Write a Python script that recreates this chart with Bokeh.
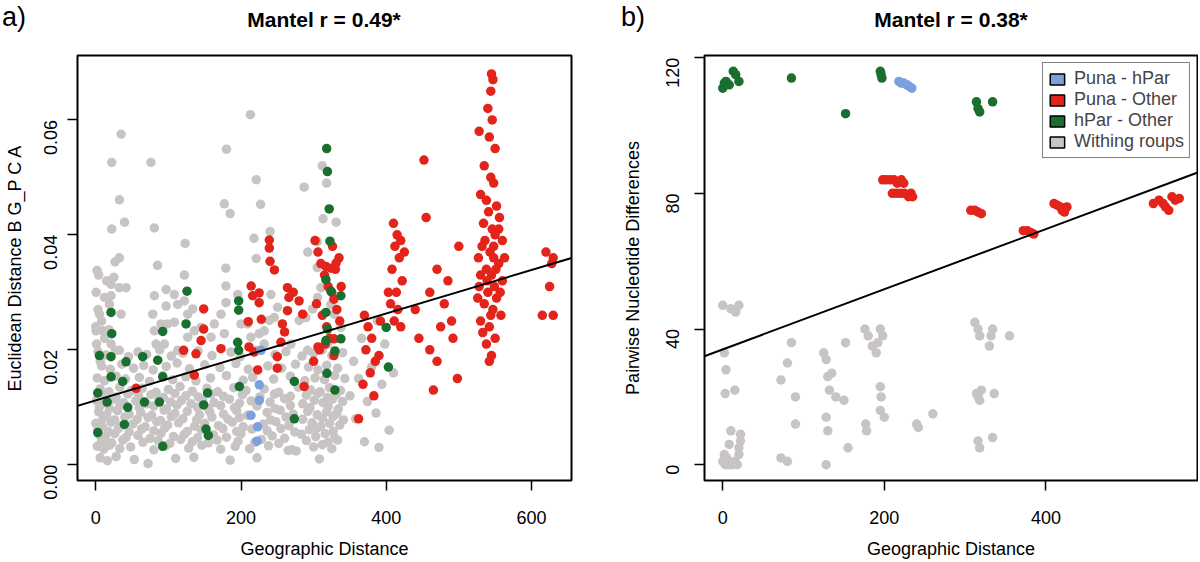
import math
from bokeh.plotting import figure
from bokeh.models import (Range1d, FixedTicker, NumeralTickFormatter, Slope,
                          Legend, LegendItem, Div)
from bokeh.layouts import row, column
from bokeh.embed import file_html
from bokeh.resources import INLINE

FONT = "Liberation Sans"
C_GRAY = "#c8c4c4"
C_RED = "#e3241b"
C_GREEN = "#196f2e"
C_BLUE = "#7c9fde"

# ---------------- Panel a data: (geographic distance, euclidean distance) ----------------
a_gray_pts = [
    # upper scattered
    (213,0.0609),(35,0.0575),(180,0.0549),(22,0.0526),(76,0.0526),(312,0.052),(318,0.049),
    (32.5,0.0461),(39.6,0.0422),(22,0.041),(80.7,0.0412),(177,0.0454),(185,0.0437),(227,0.0453),
    (221,0.0496),(287,0.0483),(123,0.0385),(32.5,0.036),(26.6,0.0353),(85,0.0347),(1.8,0.0338),
    (24.8,0.0326),(122,0.033),(179,0.0342),(218,0.0394),(240,0.0406),(221,0.0359),(292,0.037),
    (305,0.0388),(313,0.0428),(331,0.0422),(305,0.0343),
    # middle band
    (21,0.0314),(32.5,0.0308),(41.7,0.0308),(11.9,0.0291),(21,0.0294),(18.8,0.0279),(5,0.0262),
    (34.8,0.0262),(0.4,0.0233),(9.6,0.0233),(21,0.021),(32.5,0.0199),(80.7,0.0294),(78.4,0.0262),
    (96.8,0.0305),(108.2,0.0296),(96.8,0.0276),(112.8,0.0279),(122,0.0285),(133.5,0.0271),
    (80.7,0.0233),(89.9,0.0245),(99,0.0245),(108.2,0.0248),(83,0.021),(94.5,0.021),(112.8,0.0199),
    (126.6,0.0222),(135.7,0.0233),(144.9,0.0239),(158.7,0.0222),(177,0.0228),(179.3,0.0311),
    (179.3,0.0282),(200,0.0245),(213.7,0.0222),(225.2,0.0228),(232,0.0233),(239,0.0251),
    (241.2,0.0296),(250.4,0.0274),(268.8,0.021),(280.2,0.0251),(289.4,0.0256),(298.6,0.0271),
    (305.5,0.0291),(310,0.0308),(323.8,0.0279),(328.4,0.0262),(291.7,0.0199),(305.5,0.0199),
    (319.2,0.021),(337.6,0.0239),(232,0.021),(245.8,0.0256),(172.4,0.0262),(163.3,0.0245),
    (195.4,0.0296),(209.1,0.0245),(126.6,0.0262),
    (0.5,0.030),(3,0.027),(8,0.025),(12,0.022),(1,0.021),(6,0.018),(15,0.032),(0,0.024),(4,0.033),(18,0.0235),
    # lower dense mass
    (3,0.0197),(14,0.0191),(27,0.0199),(45,0.0188),(58,0.0196),(70,0.0192),(88,0.0200),(104,0.0189),
    (120,0.0194),(141,0.0198),(160,0.0190),(186,0.0196),(199,0.0188),(222,0.0199),(247,0.0192),
    (262,0.0197),(284,0.0189),(300,0.0194),(312,0.0200),(325,0.0190),(340,0.0195),
    (8,0.0172),(20,0.0166),(36,0.0175),(52,0.0168),(66,0.0173),(79,0.0165),(97,0.0171),(112,0.0177),
    (129,0.0167),(150,0.0174),(171,0.0169),(193,0.0176),(210,0.0166),(237,0.0172),(256,0.0168),
    (275,0.0175),(293,0.0170),(306,0.0165),(318,0.0173),(333,0.0168),
    (2,0.0151),(12,0.0146),(28,0.0154),(41,0.0149),(60,0.0152),(74,0.0145),(92,0.0155),(106,0.0148),
    (124,0.0153),(138,0.0146),(158,0.0151),(180,0.0155),(203,0.0147),(216,0.0152),(245,0.0149),
    (268,0.0154),(288,0.0146),(302,0.0151),(315,0.0148),(329,0.0155),(343,0.0150),
    (6,0.0132),(18,0.0127),(33,0.0135),(49,0.0129),(64,0.0133),(83,0.0126),(100,0.0131),(116,0.0136),
    (133,0.0128),(153,0.0133),(168,0.0127),(190,0.0134),(207,0.0129),(232,0.0132),(252,0.0126),
    (279,0.0135),(296,0.0130),(309,0.0127),(322,0.0134),(337,0.0129),
    (1,0.0112),(10,0.0107),(24,0.0114),(38,0.0108),(55,0.0111),(70,0.0106),(87,0.0115),(103,0.0109),
    (118,0.0112),(131,0.0106),(147,0.0113),(163,0.0108),(184,0.0114),(198,0.0107),(214,0.0111),
    (240,0.0109),(260,0.0115),(285,0.0106),(301,0.0112),(313,0.0108),(326,0.0114),(340,0.0110),
    (4,0.0092),(15,0.0087),(30,0.0094),(46,0.0088),(62,0.0091),(77,0.0086),(94,0.0095),(109,0.0089),
    (126,0.0093),(143,0.0087),(157,0.0092),(176,0.0088),(194,0.0094),(209,0.0086),(236,0.0091),
    (254,0.0095),(272,0.0088),(292,0.0093),(305,0.0087),(318,0.0092),(332,0.0089),
    (0,0.0072),(9,0.0067),(21,0.0074),(35,0.0068),(51,0.0071),(68,0.0066),(84,0.0075),(99,0.0069),
    (114,0.0073),(136,0.0067),(150,0.0072),(169,0.0068),(188,0.0074),(203,0.0066),(231,0.0071),
    (248,0.0075),(266,0.0068),(298,0.0073),(310,0.0067),(322,0.0072),(336,0.0069),
    (5,0.0052),(13,0.0047),(26,0.0054),(42,0.0048),(58,0.0051),(75,0.0046),(90,0.0055),(107,0.0049),
    (122,0.0053),(140,0.0047),(162,0.0052),(180,0.0048),(200,0.0054),(243,0.0050),(260,0.0046),
    (283,0.0053),(303,0.0049),(316,0.0054),(329,0.0047),
    (2,0.0032),(11,0.0027),(19,0.0034),(33,0.0028),(48,0.0031),(80,0.0026),(96,0.0033),(128,0.0029),
    (146,0.0034),(172,0.0027),(192,0.0032),(212,0.0028),(238,0.0033),(270,0.0026),(300,0.0031),
    (312,0.0035),(325,0.0028),
    (6,0.0012),(16,0.0007),(28,0.0014),(53,0.0009),(72,0.0002),(110,0.0011),(135,0.0013),(185,0.0008),
    (222,0.0012),(265,0.0025),(276,0.0024),(308,0.0010),
    (8,0.0041),(22,0.0038),(37,0.0043),(65,0.0039),(86,0.0042),(102,0.0037),(117,0.0044),(133,0.0040),
    (155,0.0038),(167,0.0043),(196,0.0041),(219,0.0039),(228,0.0044),(252,0.0037),(290,0.0042),
    (320,0.0039),(333,0.0043),
    (3,0.0061),(17,0.0058),(31,0.0063),(46,0.0057),(63,0.0062),(80,0.0059),(95,0.0064),(126,0.0058),
    (145,0.0061),(175,0.0063),(194,0.0058),(215,0.0062),(236,0.0059),(255,0.0063),(274,0.0057),
    (294,0.0061),(305,0.0064),(327,0.0058),
    (10,0.0081),(26,0.0078),(40,0.0083),(57,0.0079),(72,0.0082),(89,0.0077),(104,0.0084),(120,0.0080),
    (139,0.0078),(160,0.0083),(182,0.0079),(198,0.0082),(241,0.0078),(262,0.0083),(285,0.0079),
    (312,0.0081),(327,0.0084),(341,0.0078),
    (5,0.0101),(19,0.0098),(33,0.0103),(60,0.0099),(80,0.0102),(97,0.0097),(112,0.0104),(140,0.0100),
    (155,0.0098),(172,0.0103),(191,0.0099),(222,0.0102),(247,0.0098),(268,0.0103),(295,0.0099),
    (320,0.0101),(334,0.0097),
    (13,0.0121),(28,0.0118),(44,0.0123),(59,0.0119),(76,0.0122),(93,0.0117),(109,0.0124),(124,0.0120),
    (141,0.0118),(159,0.0123),(176,0.0119),(202,0.0122),(226,0.0118),(246,0.0123),(268,0.0119),
    (290,0.0121),(306,0.0124),(319,0.0117),(331,0.0122),
    # sparse right part
    (350,0.012),(355,0.018),(358,0.008),(362,0.015),(366,0.022),(370,0.004),(374,0.011),(380,0.017),
    (386,0.009),(390,0.003),(394,0.014),(398,0.021),(404,0.006),(410,0.016),(388,0.025),
]

a_red_pts = [
    # cluster around 540
    (545,0.068),(547,0.067),(544,0.065),(540,0.062),(546,0.060),(528,0.058),(542,0.057),(550,0.055),
    (535,0.052),(544,0.050),(548,0.049),(530,0.047),(538,0.046),(552,0.045),(541,0.044),(556,0.043),
    (534,0.042),(546,0.041),(550,0.040),(560,0.039),(532,0.038),(543,0.037),(548,0.036),(555,0.035),
    (538,0.034),(545,0.033),(560,0.032),(528,0.031),(540,0.030),(552,0.029),(535,0.028),(547,0.027),
    (558,0.026),(530,0.025),(542,0.024),(550,0.022),(538,0.021),(545,0.019),(542,0.018),(530,0.033),
    (563,0.036),(555,0.041),(536,0.039),(549,0.031),(544,0.026),(526,0.029),(533,0.023),(551,0.034),
    (557,0.030),(539,0.032),(548,0.038),(527,0.036),
    (620,0.037),(630,0.036),(628,0.035),(625,0.031),(615,0.026),(630,0.026),
    # around 410
    (410,0.042),(415,0.040),(420,0.039),(412,0.038),(418,0.036),(408,0.034),(422,0.032),(414,0.030),
    (406,0.028),(416,0.027),(411,0.025),(420,0.024),(403,0.030),(425,0.037),
    # 440-500
    (452,0.053),(455,0.043),(500,0.038),(470,0.034),(460,0.030),(480,0.028),(490,0.025),(492,0.022),
    (470,0.018),(498,0.015),(465,0.013),(445,0.022),(440,0.027),(485,0.032),(460,0.020),(475,0.024),
    # 360-395
    (362,0.008),(370,0.026),(375,0.024),(380,0.022),(372,0.020),(385,0.018),(378,0.016),(390,0.019),
    (368,0.014),(383,0.012),(392,0.025),
    # 300-340
    (302,0.039),(306,0.037),(310,0.035),(315,0.033),(320,0.031),(325,0.030),(330,0.034),(335,0.036),
    (304,0.028),(312,0.026),(318,0.024),(322,0.022),(308,0.020),(328,0.019),(332,0.027),(336,0.025),
    (300,0.018),(316,0.021),(326,0.038),(338,0.031),(324,0.0342),(331,0.0351),(328,0.0288),
    (328,0.0219),(317,0.0345),(306,0.0205),(287,0.0136),
    # 200-290
    (239,0.0391),(239,0.0377),(240,0.0354),(246,0.0339),(214,0.0311),(225,0.0299),(216,0.0294),
    (225,0.0282),(264,0.0308),(266,0.0291),(264,0.0268),(257,0.0245),(260,0.0231),(255,0.0213),
    (250,0.0188),(250,0.0168),(228,0.0253),(210,0.0249),(211,0.0205),(218,0.0196),(223,0.0165),
    (272,0.0300),(280,0.0285),(285,0.0262),
    # 50-180
    (148.6,0.0271),(148.6,0.0236),(145,0.0216),(138,0.0193),(135.7,0.0156),(172.4,0.0202),
    (55.5,0.0133),(121,0.0199),
]

a_green_pts = [
    (318,0.055),(319,0.051),(321.5,0.0445),(322.5,0.0389),(317,0.0322),(323.8,0.0302),(337.6,0.0294),
    (317,0.0265),(319.2,0.0236),(317,0.0216),(337.6,0.0219),(329.3,0.0198),(318.3,0.0159),
    (329.3,0.0130),(273.4,0.0145),(273.4,0.0080),(197.7,0.0136),(196.8,0.0285),(196.8,0.0269),
    (195.4,0.0213),(196.8,0.0199),(125.7,0.0302),(124.3,0.0245),(92.2,0.0232),(85.3,0.0182),
    (64.6,0.0188),(41.7,0.0179),(21,0.0265),(22,0.0228),(5,0.0190),(21,0.0188),(21,0.0153),
    (37.1,0.0145),(2.7,0.0125),(15.6,0.0109),(44,0.0100),(67,0.0109),(87.6,0.0109),(92.2,0.0153),
    (148.6,0.0104),(154,0.0125),(39.4,0.0070),(2.7,0.0056),(92.2,0.0032),(151.8,0.0062),
    (155,0.0051),(400,0.0239),(403,0.0170),
]

a_blue_pts = [(227.5,0.0199),(225.2,0.0139),(225.2,0.0112),(213.7,0.0086),(222.9,0.0066),(222,0.0041)]

a_xticks = [0, 200, 400, 600]
a_yticks = [0.00, 0.02, 0.04, 0.06]
a_fit_intercept, a_fit_slope = 0.0112, 0.0000378

# ---------------- Panel b data ----------------
b_gray_x = [0,10,16,20,2,4,15,3,10,8,2,5,0,3,6,9,12,15,18,20,22,22,20,
            72,80,72,80,85,90,90,
            125,128,130,132,128,130,135,140,128,
            150,152,155,
            176,180,185,190,192,195,198,200,196,195,177,178,195,
            240,242,260,
            312,316,318,314,316,318,320,332,334,330,336,316,318,334,355]
b_gray_y = [47,46,45,47,33,28,22,21,10,6,3,2,1,0,0,0,0,1,0,5,7,9,3,
            2,1,25,30,36,20,12,
            33,31,26,22,14,10,27,20,0,
            19,36,5,
            40,38,35,33,36,40,38,14,20,16,12,10,23,
            12,11,15,
            42,40,38,21,20,19,22,38,40,35,21,7,5,8,38]

b_red_x = [198,202,207,212,216,221,224,210,215,220,225,230,233,235,
           307,312,316,320,
           372,377,381,385,
           410,414,418,420,423,426,
           533,540,545,548,552,556,560,565]
b_red_y = [84,84,84,84,83,84,83,80,80,80,80,79,80,79,
           75,75,74.5,74,
           69,69,68.5,68,
           77,76.5,76,75,74.5,76,
           77,78,77,76,75,79,78,78.5]

b_green_x = [0,2,4,8,13,16,20,85,152,195,196,197,314,316,318,334]
b_green_y = [111,112.5,113,112,116,115,113,114,103.5,116,115,114,107,105,104,107]

b_blue_x = [218,221,224,228,231,234]
b_blue_y = [113,112.5,112.5,112,111.5,111]

b_xticks = [0, 200, 400]
b_yticks = [0, 40, 80, 120]
b_fit_intercept, b_fit_slope = 34.0, 0.0887

legend_labels = ["Puna - hPar", "Puna - Other", "hPar - Other", "Withing roups"]
legend_colors = [C_BLUE, C_RED, C_GREEN, C_GRAY]
panel_letters = ["a)", "b)"]
panel_titles = ["Mantel r = 0.49*", "Mantel r = 0.38*"]
x_label = "Geographic Distance"
y_labels = ["Euclidean Distance B G_P C A", "Pairwise Nucleotide Differences"]

FIG_H = 521
PT = 9.5


def unzip(pts):
    return [p[0] for p in pts], [p[1] for p in pts]


def style(p, xticks, yticks, yfmt):
    p.background_fill_color = "white"
    p.border_fill_color = "white"
    p.outline_line_color = "black"
    p.outline_line_width = 2
    p.xgrid.visible = False
    p.ygrid.visible = False
    p.xaxis.ticker = FixedTicker(ticks=xticks, minor_ticks=[])
    p.yaxis.ticker = FixedTicker(ticks=yticks, minor_ticks=[])
    if yfmt:
        p.yaxis.formatter = NumeralTickFormatter(format=yfmt)
    for ax in (p.xaxis[0], p.yaxis[0]):
        ax.axis_line_color = None
        ax.major_tick_out = 10
        ax.major_tick_in = 0
        ax.minor_tick_out = 0
        ax.minor_tick_in = 0
        ax.major_tick_line_color = "black"
        ax.major_tick_line_width = 1.5
        ax.major_label_text_font = FONT
        ax.major_label_text_font_size = "18px"
        ax.major_label_text_color = "black"
        ax.axis_label_text_font = FONT
        ax.axis_label_text_font_size = "18px"
        ax.axis_label_text_font_style = "normal"
        ax.axis_label_text_color = "black"
    p.xaxis.major_label_standoff = 20
    p.xaxis.axis_label_standoff = 12
    p.yaxis.major_label_orientation = math.pi / 2


# ---------------- Figure a ----------------
p1 = figure(width=618, height=FIG_H, output_backend="svg", toolbar_location=None,
            x_range=Range1d(-25.2, 655.2), y_range=Range1d(-0.00274, 0.0712),
            min_border_left=77, min_border_right=47, min_border_top=15, min_border_bottom=78,
            x_axis_label=x_label, y_axis_label=y_labels[0])
style(p1, a_xticks, a_yticks, "0.00")
p1.yaxis.major_label_standoff = 17
p1.yaxis.axis_label_standoff = 10
for pts, col in ((a_gray_pts, C_GRAY), (a_red_pts, C_RED), (a_green_pts, C_GREEN), (a_blue_pts, C_BLUE)):
    xs, ys = unzip(pts)
    p1.scatter(xs, ys, size=PT, fill_color=col, line_color=None)
p1.add_layout(Slope(gradient=a_fit_slope, y_intercept=a_fit_intercept, line_color="black", line_width=2))

# ---------------- Figure b ----------------
p2 = figure(width=580, height=FIG_H, output_backend="svg", toolbar_location=None,
            x_range=Range1d(-22.6, 587.6), y_range=Range1d(-4.64, 120.64),
            min_border_left=86, min_border_right=1, min_border_top=15, min_border_bottom=78,
            x_axis_label=x_label, y_axis_label=y_labels[1])
style(p2, b_xticks, b_yticks, None)
p2.yaxis.major_label_standoff = 22
p2.yaxis.axis_label_standoff = 14
for xs, ys, col in ((b_gray_x, b_gray_y, C_GRAY), (b_red_x, b_red_y, C_RED),
                    (b_green_x, b_green_y, C_GREEN), (b_blue_x, b_blue_y, C_BLUE)):
    p2.scatter(xs, ys, size=PT, fill_color=col, line_color=None)
p2.add_layout(Slope(gradient=b_fit_slope, y_intercept=b_fit_intercept, line_color="black", line_width=2))

nan = float("nan")
items = []
for lab, col in zip(legend_labels, legend_colors):
    r = p2.quad(left=[nan], right=[nan], bottom=[nan], top=[nan], fill_color=col,
                line_color="black", line_width=1.5)
    items.append(LegendItem(label=lab, renderers=[r]))
leg = Legend(items=items, location="top_right", margin=7, padding=5, spacing=0,
             glyph_width=18, glyph_height=14, label_height=19, label_standoff=8,
             label_text_font=FONT, label_text_font_size="18px", label_text_baseline="middle",
             border_line_color="black", border_line_width=1.5,
             background_fill_color="white", background_fill_alpha=1.0)
p2.add_layout(leg)

# ---------------- header with panel letters and titles ----------------
header_html = (
    '<div style="position:relative;width:1198px;height:40px;font-family:\'Liberation Sans\',Arial,sans-serif;color:#000;">'
    f'<span style="position:absolute;left:2px;top:4px;font-size:27px;line-height:27px;">{panel_letters[0]}</span>'
    f'<span style="position:absolute;left:224px;width:200px;text-align:center;top:9px;font-size:21px;line-height:21px;font-weight:bold;">{panel_titles[0]}</span>'
    f'<span style="position:absolute;left:621px;top:4px;font-size:27px;line-height:27px;">{panel_letters[1]}</span>'
    f'<span style="position:absolute;left:851px;width:200px;text-align:center;top:9px;font-size:21px;line-height:21px;font-weight:bold;">{panel_titles[1]}</span>'
    '</div>'
)
header = Div(text=header_html, width=1198, height=40, margin=0)

layout = column(header, row(p1, p2))
open("out.html", "w").write(file_html(layout, INLINE))
